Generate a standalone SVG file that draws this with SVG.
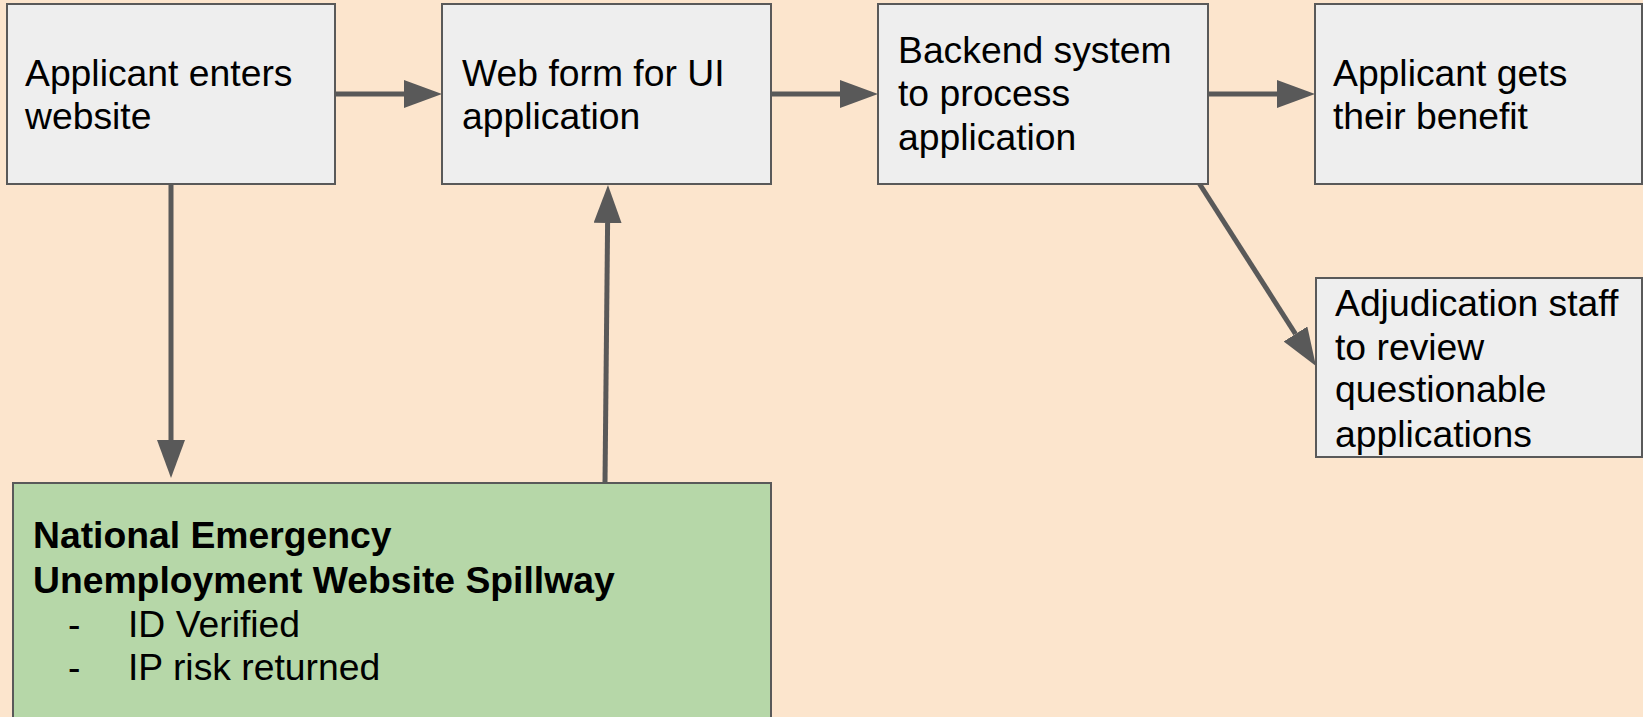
<svg xmlns="http://www.w3.org/2000/svg" width="1643" height="717" viewBox="0 0 1643 717">
<style>
.box{fill:#eeeeee;stroke:#595959;stroke-width:2}
.green{fill:#b6d7a8;stroke:#595959;stroke-width:2}
.t{font-family:"Liberation Sans",Arial,sans-serif;font-size:37.3px;fill:#000}
.b{font-weight:bold}
.c{stroke:#595959;stroke-width:5;fill:none}
</style>
<defs>
<marker id="ah" viewBox="0 0 38 28" refX="0" refY="14" markerWidth="38" markerHeight="28" markerUnits="userSpaceOnUse" orient="auto">
<path d="M0,0 L38,14 L0,28 z" fill="#595959"/>
</marker>
</defs>
<rect width="1643" height="717" fill="#fce5cd"/>
<g id="connectors">
<line class="c" x1="335" y1="94" x2="404" y2="94" marker-end="url(#ah)"/>
<line class="c" x1="771" y1="94" x2="840" y2="94" marker-end="url(#ah)"/>
<line class="c" x1="1208" y1="94" x2="1277" y2="94" marker-end="url(#ah)"/>
<line class="c" x1="171" y1="184" x2="171" y2="440" marker-end="url(#ah)"/>
<line class="c" x1="605" y1="483" x2="607.6" y2="223" marker-end="url(#ah)"/>
<line class="c" x1="1199" y1="183" x2="1295.5" y2="334" marker-end="url(#ah)"/>
</g>
<g id="n1">
<rect class="box" x="7" y="4" width="328" height="180"/>
<text class="t" x="25" y="86">Applicant enters</text>
<text class="t" x="25" y="129">website</text>
</g>
<g id="n2">
<rect class="box" x="442" y="4" width="329" height="180"/>
<text class="t" x="462" y="86">Web form for UI</text>
<text class="t" x="462" y="129">application</text>
</g>
<g id="n3">
<rect class="box" x="878" y="4" width="330" height="180"/>
<text class="t" x="898" y="63">Backend system</text>
<text class="t" x="898" y="106">to process</text>
<text class="t" x="898" y="150">application</text>
</g>
<g id="n4">
<rect class="box" x="1315" y="4" width="327" height="180"/>
<text class="t" x="1333" y="86">Applicant gets</text>
<text class="t" x="1333" y="129">their benefit</text>
</g>
<g id="n5">
<rect class="box" x="1316" y="278" width="326" height="179"/>
<text class="t" x="1335" y="316">Adjudication staff</text>
<text class="t" x="1335" y="360">to review</text>
<text class="t" x="1335" y="402">questionable</text>
<text class="t" x="1335" y="447">applications</text>
</g>
<g id="n6">
<rect class="green" x="13" y="483" width="758" height="250"/>
<text class="t b" x="33" y="548">National Emergency</text>
<text class="t b" x="33" y="593">Unemployment Website Spillway</text>
<text class="t" x="68" y="637">-</text>
<text class="t" x="128" y="637">ID Verified</text>
<text class="t" x="68" y="680">-</text>
<text class="t" x="128" y="680">IP risk returned</text>
</g>
</svg>
